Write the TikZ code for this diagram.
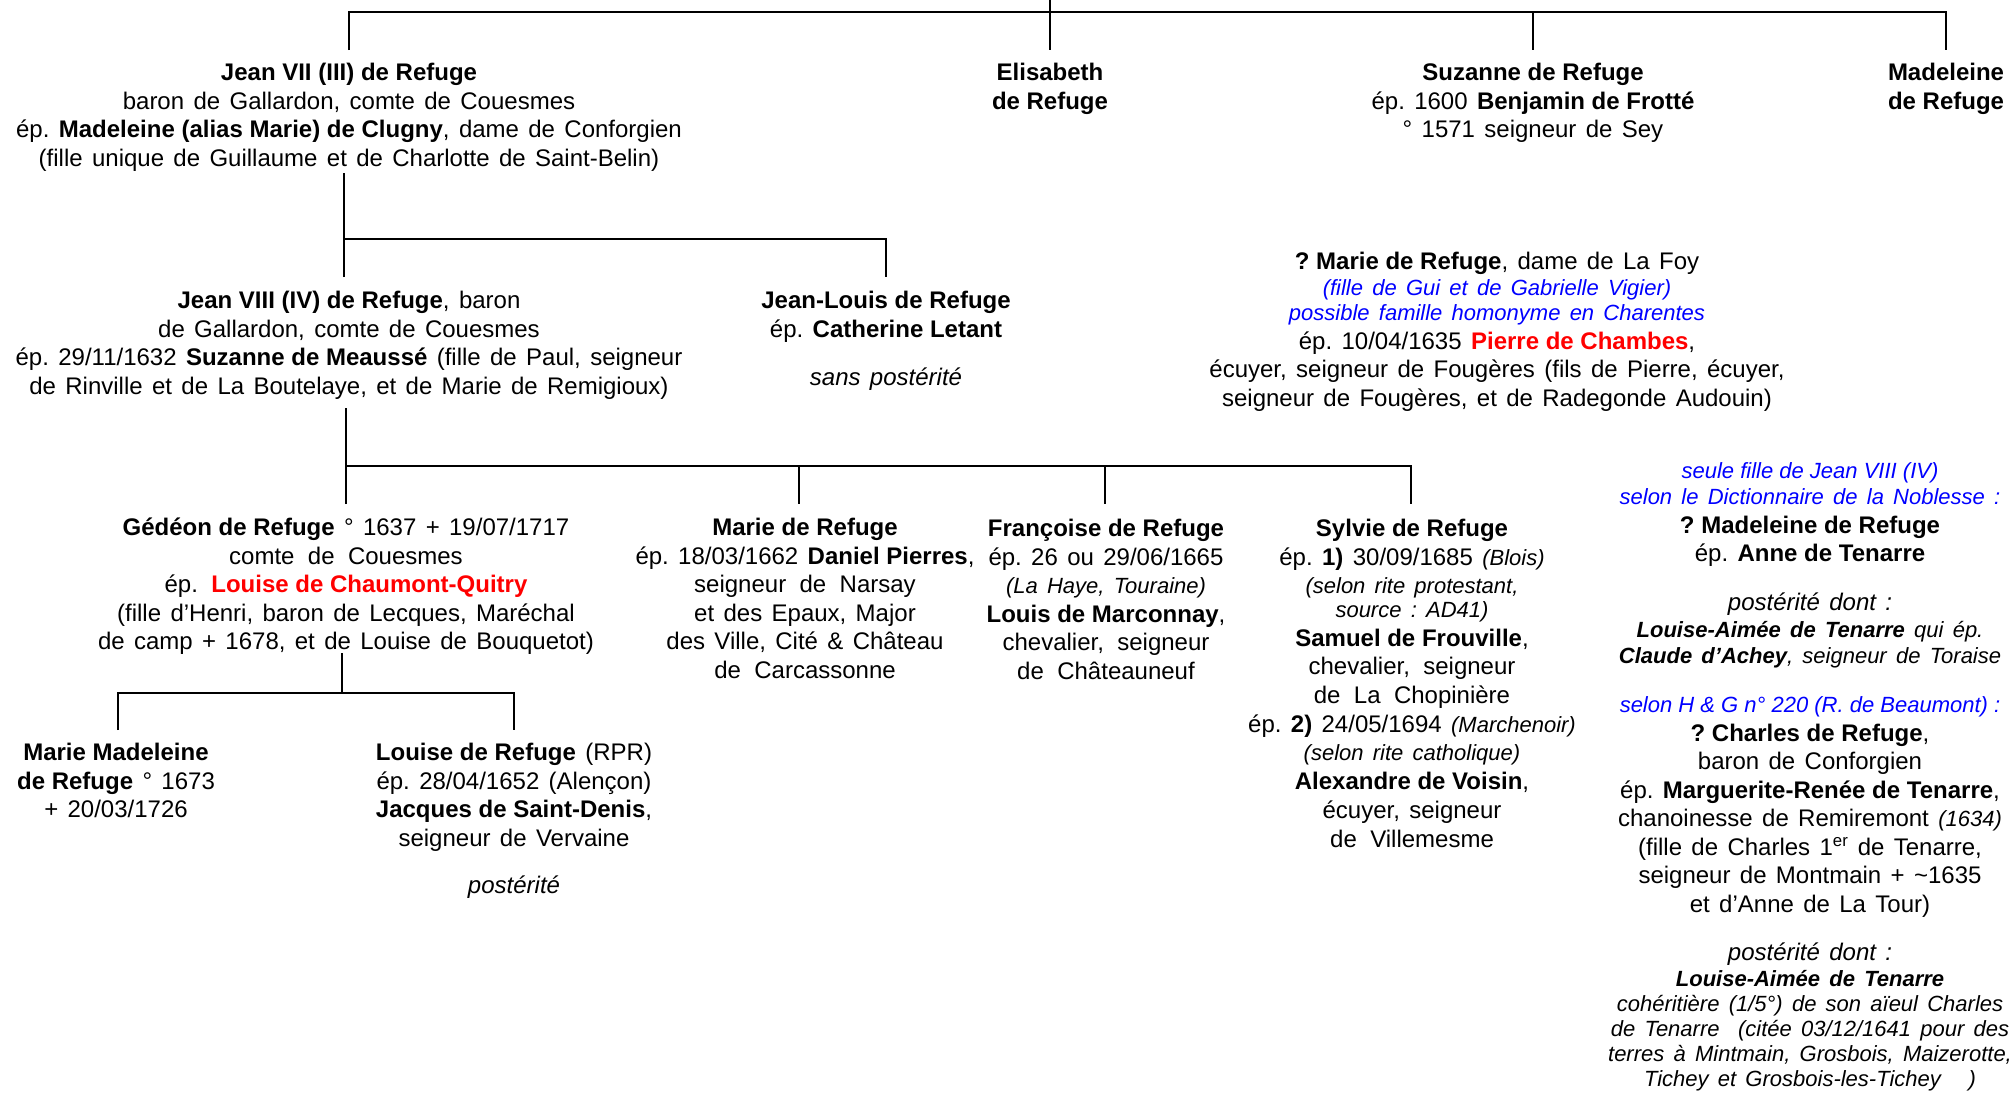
\documentclass[tikz,border=0pt]{standalone}
\usepackage{fontspec}
\setmainfont{Liberation Sans}
\frenchspacing
\definecolor{myblue}{RGB}{0,0,255}
\definecolor{myred}{RGB}{255,0,0}
\newcommand\mainf{\fontsize{24}{28.5}\selectfont\frenchspacing\spaceskip=0.39em plus 0.1em\relax}
\newcommand\B[1]{{\bfseries\spaceskip=0pt\relax #1}}
\newcommand\smit[1]{{\fontsize{22}{26}\selectfont\itshape\spaceskip=0.42em\relax #1}}
\newcommand\smitn[1]{{\fontsize{22}{26}\selectfont\itshape\spaceskip=0pt\relax #1}}
\newcommand\bl[1]{\textcolor{myblue}{#1}}
\newcommand\rd[1]{\textcolor{myred}{\B{#1}}}
\newcommand\ww{\hskip13.4pt\relax}
\begin{document}
\begin{tikzpicture}[x=1pt,y=-1pt,
  conn/.style={line width=2pt,black},
  blk/.style={anchor=north,align=center,inner sep=0pt,outer sep=0pt,font=\mainf}]
\fill[white] (0,0) rectangle (2012,1093);
\useasboundingbox (0,0) rectangle (2012,1093);

% ---------- generation 1 ----------
\node[blk] (j7) at (349,61) {\strut\B{Jean VII (III) de Refuge}\\
baron de Gallardon, comte de Couesmes\\
ép. \B{Madeleine (alias Marie) de Clugny}, dame de Conforgien\\
(fille unique de Guillaume et de Charlotte de Saint-Belin)};
\node[blk] (eli) at (1050,61) {\strut\B{Elisabeth}\\\B{de Refuge}};
\node[blk] (suz) at (1533,61) {\strut\B{Suzanne de Refuge}\\
ép. 1600 \B{Benjamin de Frotté}\\
° 1571 seigneur de Sey};
\node[blk] (mad) at (1946,61) {\strut\B{Madeleine}\\\B{de Refuge}};

% ---------- generation 2 ----------
\node[blk] (j8) at (349,289) {\strut\B{Jean VIII (IV) de Refuge}, baron\\
de Gallardon, comte de Couesmes\\
ép. 29/11/1632 \B{Suzanne de Meaussé} (fille de Paul, seigneur\\
de Rinville et de La Boutelaye, et de Marie de Remigioux)};
\node[blk] (jl) at (886,289) {\strut\B{Jean-Louis de Refuge}\\
ép. \B{Catherine Letant}\\[19.5pt]
\textit{sans postérité}};
\node[blk] (mdr) at (1497,250) {\strut\B{? Marie de Refuge}, dame de La Foy\\[-2.5pt]
\bl{\smit{(fille de Gui et de Gabrielle Vigier)}}\\[-3.5pt]
\bl{\smit{possible famille homonyme en Charentes}}\\
ép. 10/04/1635 \rd{Pierre de Chambes},\\
écuyer, seigneur de Fougères (fils de Pierre, écuyer,\\
seigneur de Fougères, et de Radegonde Audouin)};

% ---------- generation 3 ----------
\node[blk] (ged) at (346,516) {\strut\B{Gédéon de Refuge} ° 1637 + 19/07/1717\\
comte\ww de\ww Couesmes\\
ép.\ww\rd{Louise de Chaumont-Quitry}\\
(fille d’Henri, baron de Lecques, Maréchal\\
de camp + 1678, et de Louise de Bouquetot)};
\node[blk] (marp) at (805,516) {\strut\B{Marie de Refuge}\\
ép. 18/03/1662 \B{Daniel Pierres},\\
seigneur\ww de\ww Narsay\\
et des Epaux, Major\\
des Ville, Cité \& Château\\
de\ww Carcassonne};
\node[blk] (fra) at (1106,517) {\strut\B{Françoise de Refuge}\\
ép. 26 ou 29/06/1665\\
\smit{(La Haye, Touraine)}\\
\B{Louis de Marconnay},\\
chevalier,\ww seigneur\\
de\ww Châteauneuf};
\node[blk] (syl) at (1412,517) {\strut\B{Sylvie de Refuge}\\
ép. \B{1)} 30/09/1685 \smit{(Blois)}\\
\smit{(selon rite protestant,}\\[-4.5pt]
\smit{source : AD41)}\\
\B{Samuel de Frouville},\\
chevalier,\ww seigneur\\
de\ww La\ww Chopinière\\[0.5pt]
ép. \B{2)} 24/05/1694 \smit{(Marchenoir)}\\
\smit{(selon rite catholique)}\\[0.5pt]
\B{Alexandre de Voisin},\\[0.5pt]
écuyer, seigneur\\[0.5pt]
de\ww Villemesme};

% ---------- generation 4 ----------
\node[blk] (mm) at (116,741) {\strut\B{Marie Madeleine}\\
\B{de Refuge} ° 1673\\
+ 20/03/1726};
\node[blk] (lou) at (514,741) {\strut\B{Louise de Refuge} (RPR)\\
ép. 28/04/1652 (Alençon)\\
\B{Jacques de Saint-Denis},\\
seigneur de Vervaine\\[19pt]
\textit{postérité}};

% ---------- right column ----------
\node[blk] (ra) at (1810,459) {\strut\bl{\smitn{seule fille de Jean VIII (IV)}}\\[-2.5pt]
\bl{\smit{selon le Dictionnaire de la Noblesse :}}\\
\B{? Madeleine de Refuge}\\
ép. \B{Anne de Tenarre}};
\node[blk] (rb) at (1810,591) {\strut\textit{postérité dont :}\\[-2pt]
\smit{\textbf{Louise-Aimée de Tenarre} qui ép.}\\[-2pt]
\smit{\textbf{Claude d’Achey}, seigneur de Toraise}};
\node[blk] (rc) at (1810,693) {\strut\bl{\smitn{selon H \& G n° 220 (R. de Beaumont) :}}\\
\B{? Charles de Refuge},\\
baron de Conforgien\\
ép. \B{Marguerite-Renée de Tenarre},\\
chanoinesse de Remiremont \smit{(1634)}\\
(fille de Charles 1\textsuperscript{er} de Tenarre,\\
seigneur de Montmain + \textasciitilde1635\\
et d’Anne de La Tour)};
\node[blk] (rd) at (1810,941) {\strut\textit{postérité dont :}\\[-3.3pt]
\smit{\textbf{Louise-Aimée de Tenarre}}\\[-3.3pt]
\smit{cohéritière (1/5°) de son aïeul Charles}\\[-3.3pt]
\smit{de Tenarre~~(citée 03/12/1641 pour des}\\[-3.3pt]
\smit{terres à Mintmain, Grosbois, Maizerotte,}\\[-3.3pt]
\smit{Tichey et Grosbois-les-Tichey~~~)}};

% ---------- connector points ----------
\coordinate (r0) at (1050,0);
\coordinate (b0) at (1050,12);
\coordinate (t-j7) at (349,12);   \coordinate (s-j7) at (349,50);
\coordinate (s-eli) at (1050,50);
\coordinate (t-suz) at (1533,12); \coordinate (s-suz) at (1533,50);
\coordinate (t-mad) at (1946,12); \coordinate (s-mad) at (1946,50);

\coordinate (p-j7) at (344,173);
\coordinate (t-j8) at (344,239);  \coordinate (s-j8) at (344,277);
\coordinate (t-jl) at (886,239);  \coordinate (s-jl) at (886,277);

\coordinate (p-j8) at (346,408);
\coordinate (t-ged) at (346,466); \coordinate (s-ged) at (346,504);
\coordinate (t-marp) at (799,466); \coordinate (s-marp) at (799,504);
\coordinate (t-fra) at (1105,466); \coordinate (s-fra) at (1105,504);
\coordinate (t-syl) at (1411,466); \coordinate (s-syl) at (1411,504);

\coordinate (p-ged) at (342,653);
\coordinate (b3) at (342,693);
\coordinate (t-mm) at (118,693);  \coordinate (s-mm) at (118,730);
\coordinate (t-lou) at (514,693); \coordinate (s-lou) at (514,730);

% ---------- connectors ----------
\draw[conn] (r0) -- (b0);
\draw[conn] (s-j7) -- (t-j7) -- (t-mad) -- (s-mad);
\draw[conn] (b0) -- (s-eli);
\draw[conn] (t-suz) -- (s-suz);

\draw[conn] (p-j7) -- (t-j8);
\draw[conn] (s-j8) -- (t-j8) -- (t-jl) -- (s-jl);

\draw[conn] (p-j8) -- (t-ged);
\draw[conn] (s-ged) -- (t-ged) -- (t-syl) -- (s-syl);
\draw[conn] (t-marp) -- (s-marp);
\draw[conn] (t-fra) -- (s-fra);

\draw[conn] (p-ged) -- (b3);
\draw[conn] (s-mm) -- (t-mm) -- (t-lou) -- (s-lou);
\end{tikzpicture}
\end{document}
